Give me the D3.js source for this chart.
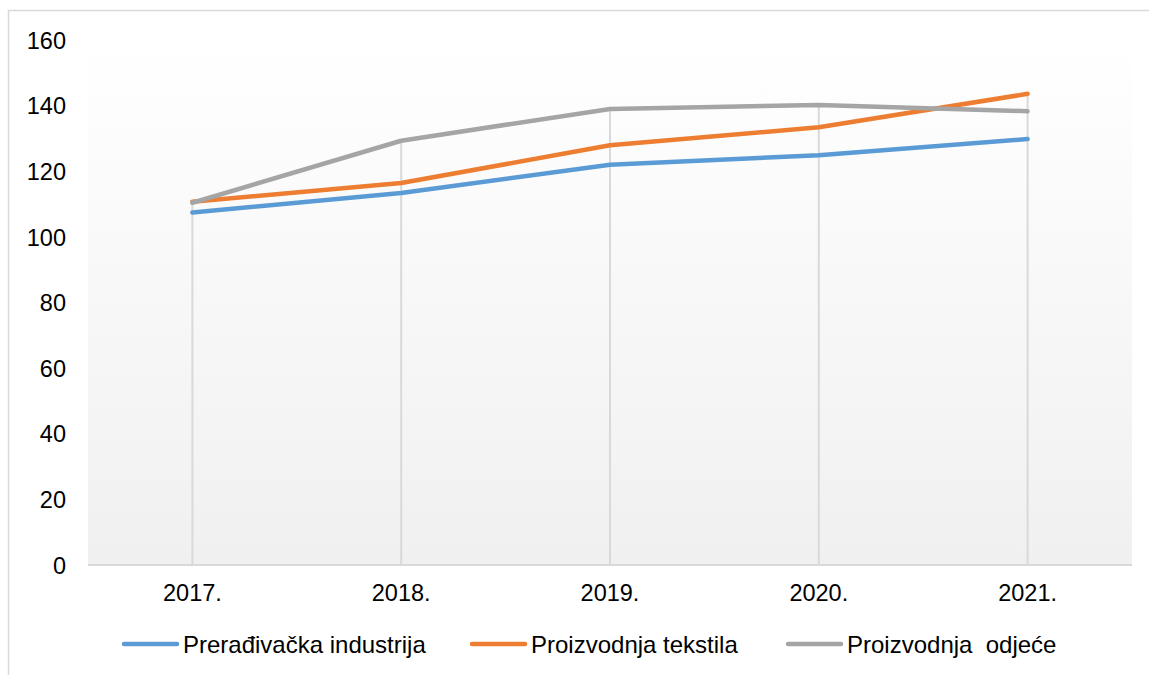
<!DOCTYPE html>
<html>
<head>
<meta charset="utf-8">
<script src="https://cdn.jsdelivr.net/npm/d3@7"></script>
<style>
	body { margin: 0; background: #fff; }
	svg text { font-family: "Liberation Sans", Arial, sans-serif; fill: #000; }
</style>
</head>
<body>
<svg id="chart" width="1149" height="675"></svg>
<script>
	// Data
	var years = ["2017.", "2018.", "2019.", "2020.", "2021."];
	var seriesNames = ["Prerađivačka industrija", "Proizvodnja tekstila", "Proizvodnja  odjeće"];
	var seriesColors = ["#5b9bd5", "#ed7d31", "#a5a5a5"];
	var preradivacka = [107.4, 113.4, 122.0, 124.9, 129.8];
	var tekstil = [110.7, 116.4, 127.9, 133.4, 143.6];
	var odjeca = [110.4, 129.3, 139.0, 140.2, 138.3];
	var yTicks = [0, 20, 40, 60, 80, 100, 120, 140, 160];

	var series = [preradivacka, tekstil, odjeca];

	var plot = { left: 88, right: 1132, top: 40, bottom: 565 };

	var svg = d3.select("#chart");

	// Outer chart border
	svg.append("rect")
		.attr("x", 8.5)
		.attr("y", 10.5)
		.attr("width", 1160)
		.attr("height", 700)
		.attr("fill", "none")
		.attr("stroke", "#d9d9d9")
		.attr("stroke-width", 1.5);

	// Plot area gradient
	var defs = svg.append("defs");
	var grad = defs.append("linearGradient")
		.attr("id", "plotBg")
		.attr("x1", 0).attr("y1", 0).attr("x2", 0).attr("y2", 1);
	grad.append("stop").attr("offset", "0%").attr("stop-color", "#ffffff");
	grad.append("stop").attr("offset", "100%").attr("stop-color", "#f0f0f0");

	svg.append("rect")
		.attr("x", plot.left)
		.attr("y", plot.top)
		.attr("width", plot.right - plot.left)
		.attr("height", plot.bottom - plot.top)
		.attr("fill", "url(#plotBg)");

	var x = d3.scaleBand()
		.domain(years)
		.range([plot.left, plot.right]);

	var y = d3.scaleLinear()
		.domain([0, 160])
		.range([plot.bottom, plot.top]);

	function cx(d) { return x(d) + x.bandwidth() / 2; }

	// Drop lines: from highest point of each category down to the axis
	svg.append("g")
		.selectAll("line")
		.data(years)
		.enter().append("line")
			.attr("x1", cx)
			.attr("x2", cx)
			.attr("y1", function(d, i) { return y(d3.max(series, function(s) { return s[i]; })); })
			.attr("y2", plot.bottom)
			.attr("stroke", "#d9d9d9")
			.attr("stroke-width", 2);

	// X axis line
	svg.append("line")
		.attr("x1", plot.left)
		.attr("x2", plot.right)
		.attr("y1", plot.bottom)
		.attr("y2", plot.bottom)
		.attr("stroke", "#d9d9d9")
		.attr("stroke-width", 2);

	// Y axis labels
	var yAxis = d3.axisLeft(y).tickValues(yTicks).tickSize(0).tickPadding(0);
	var yG = svg.append("g")
		.attr("transform", "translate(66,0)")
		.call(yAxis);
	yG.select(".domain").remove();
	yG.selectAll("text")
		.attr("font-size", 23.5)
		.attr("dy", "0.35em")
		.style("font-family", "Liberation Sans, Arial, sans-serif");

	// X axis labels
	var xAxis = d3.axisBottom(x).tickSize(0).tickPadding(0);
	var xG = svg.append("g")
		.attr("transform", "translate(0," + (plot.bottom + 18) + ")")
		.call(xAxis);
	xG.select(".domain").remove();
	xG.selectAll("text")
		.attr("font-size", 23.5)
		.attr("dy", "0.75em")
		.style("font-family", "Liberation Sans, Arial, sans-serif");

	// Series lines
	var line = d3.line()
		.x(function(d, i) { return cx(years[i]); })
		.y(function(d) { return y(d); });

	svg.append("g")
		.selectAll("path")
		.data(series)
		.enter().append("path")
			.attr("d", line)
			.attr("fill", "none")
			.attr("stroke", function(d, i) { return seriesColors[i]; })
			.attr("stroke-width", 4.5)
			.attr("stroke-linecap", "round")
			.attr("stroke-linejoin", "round");

	// Legend
	var legendX = [124, 472, 788];
	var legend = svg.append("g")
		.selectAll("g")
		.data(seriesNames)
		.enter().append("g")
			.attr("transform", function(d, i) { return "translate(" + legendX[i] + ",644)"; });

	legend.append("line")
		.attr("x1", 0)
		.attr("x2", 53)
		.attr("stroke", function(d, i) { return seriesColors[i]; })
		.attr("stroke-width", 4.5)
		.attr("stroke-linecap", "round");

	legend.append("text")
		.attr("x", 59)
		.attr("dy", "0.36em")
		.attr("font-size", 24)
		.style("white-space", "pre")
		.text(function(d) { return d; });
</script>
</body>
</html>
